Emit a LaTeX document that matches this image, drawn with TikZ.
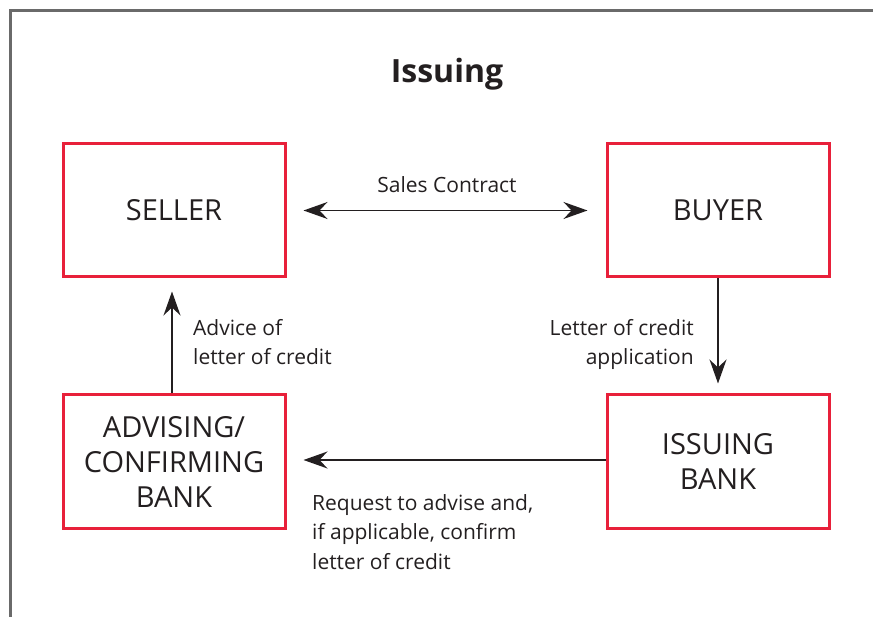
\documentclass[tikz,border=0pt]{standalone}
\usepackage{fontspec}
\setmainfont{Open Sans}
\usetikzlibrary{arrows.meta}
\definecolor{boxred}{HTML}{E8203A}
\definecolor{ink}{HTML}{231F20}
\definecolor{framegray}{HTML}{6A6A6A}
\begin{document}
\begin{tikzpicture}[x=1pt,y=-1pt,
  party/.style={draw=boxred, line width=3pt, minimum width=222pt, minimum height=133pt,
    inner sep=0pt, align=center, text=ink, font=\fontsize{29}{35}\selectfont},
  flow/.style={draw=ink, line width=1.6pt, -{Stealth[length=24pt,width=17pt,inset=8pt]}},
  twoway/.style={draw=ink, line width=1.6pt,
    {Stealth[length=24pt,width=17pt,inset=8pt]}-{Stealth[length=24pt,width=17pt,inset=8pt]}},
  note/.style={inner sep=0pt, text=ink, font=\fontsize{21}{29.5}\selectfont}]
\useasboundingbox (0,0) rectangle (873,617);
% frame: top and left edges only
\draw[framegray, line width=2.2pt] (873,10.5) -- (10.5,10.5) -- (10.5,617);
% title
\node[text=ink, font=\bfseries\fontsize{32}{38}\selectfont] (title) at (447,74) {Issuing};
% parties
\node[party] (seller) at (174,210.5) {SELLER};
\node[party] (buyer) at (718,210.5) {BUYER};
\node[party] (advising) at (174,461.5) {ADVISING/\\CONFIRMING\\BANK};
\node[party] (issuing) at (718,461.5) {ISSUING\\BANK};
% connectors
\draw[twoway, shorten <=17pt, shorten >=18pt] (seller.east) -- (buyer.west);
\draw[flow, shorten >=13pt] ([xshift=-2pt]advising.north) -- ([xshift=-2pt]seller.south);
\draw[flow, shorten >=10pt] (buyer.south) -- (issuing.north);
\draw[flow, shorten >=17pt] ([yshift=1.5pt]issuing.west) -- ([yshift=1.5pt]advising.east);
% labels
\node[note] (lsales) at (447,185) {Sales Contract};
\node[note, anchor=north west, align=left] (ladvice) at (193,319) {Advice of\\letter of credit};
\node[note, anchor=north east, align=right] (lapp) at (694,319) {Letter of credit\\application};
\node[note, anchor=north west, align=left] (lreq) at (312,494) {Request to advise and,\\if applicable, confirm\\letter of credit};
\end{tikzpicture}
\end{document}
